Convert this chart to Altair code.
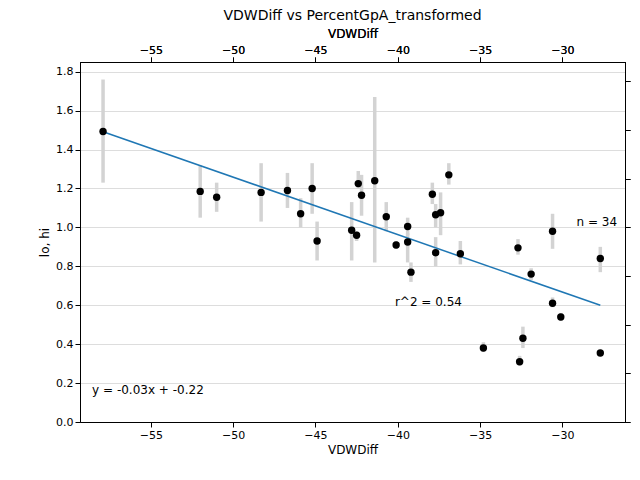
import altair as alt
import pandas as pd

vdw = [-57.9, -52.0, -51.0, -48.3, -46.7, -45.9, -45.2, -44.9, -42.8, -42.5, -42.4, -42.2,
       -41.4, -40.7, -40.1, -39.4, -39.4, -39.2, -37.9, -37.7, -37.7, -37.4, -36.9, -36.2,
       -34.8, -32.7, -32.6, -32.4, -31.9, -30.6, -30.6, -30.1, -27.7, -27.7]
gpa = [1.493, 1.185, 1.155, 1.18, 1.19, 1.07, 1.20, 0.93, 0.985, 0.96, 1.225, 1.165,
       1.24, 1.055, 0.91, 1.005, 0.925, 0.77, 1.17, 1.065, 0.87, 1.075, 1.27, 0.865,
       0.38, 0.895, 0.31, 0.43, 0.76, 0.98, 0.61, 0.54, 0.84, 0.355]
err_hi = [1.76, 1.32, 1.23, 1.33, 1.28, 1.15, 1.33, 1.03, 1.13, 0.98, 1.29, 1.27,
          1.67, 1.13, 0.93, 1.05, 0.97, 0.82, 1.23, 1.12, 0.95, 1.18, 1.33, 0.93,
          0.41, 0.94, 0.34, 0.49, 0.79, 1.07, 0.64, 0.56, 0.90, 0.37]
err_lo = [1.23, 1.05, 1.08, 1.03, 1.10, 1.00, 1.07, 0.83, 0.83, 0.93, 1.20, 1.06,
          0.82, 0.98, 0.89, 0.96, 0.82, 0.72, 1.12, 1.00, 0.80, 0.96, 1.22, 0.81,
          0.36, 0.86, 0.29, 0.38, 0.73, 0.89, 0.59, 0.52, 0.77, 0.34]

df = pd.DataFrame({"VDWDiff": vdw, "PercentGpA_transformed": gpa, "hi": err_hi, "lo": err_lo})

xs = alt.Scale(domain=[-59.3, -26.2], nice=False, zero=False)
ys = alt.Scale(domain=[0, 1.85], nice=False)
x = alt.X("VDWDiff:Q", scale=xs, axis=alt.Axis(values=[-55, -50, -45, -40, -35, -30], grid=False, format="d", title="VDWDiff"))
y = alt.Y("PercentGpA_transformed:Q", scale=ys, axis=alt.Axis(values=[0, 0.25, 0.5, 0.75, 1.0, 1.25, 1.5, 1.75], format=".2f", grid=False))

base = alt.Chart(df)
bars = base.mark_rule(color="lightgray", strokeWidth=3.5).encode(x=x, y=alt.Y("lo:Q", scale=ys), y2="hi:Q")
line = base.transform_regression("VDWDiff", "PercentGpA_transformed").mark_line(color="#1f77b4", strokeWidth=1.5).encode(x=x, y=y)
pts = base.mark_circle(color="black", size=55, opacity=1).encode(x=x, y=y)

labels = ["y = -0.03x + -0.22", "r^2 = 0.54", "n = 34"]
offs = [(-14, -41), (11, -30), (26, -20)]
text_df = pd.DataFrame({"t": labels, "ox": [o[0] for o in offs], "oy": [o[1] for o in offs]})
texts = alt.Chart(text_df).mark_text(align="left", baseline="middle", fontSize=12, font="DejaVu Sans").encode(
    text="t:N",
    x=alt.X("ox:Q", scale=alt.Scale(type="identity"), axis=None),
    y=alt.Y("oy:Q", scale=alt.Scale(type="identity"), axis=None),
)

chart = alt.layer(bars, line, pts, texts).resolve_scale(x="independent", y="independent").properties(
    width=545, height=360,
    title=alt.Title("VDWDiff vs PercentGpA_transformed", fontSize=14, fontWeight="normal", font="DejaVu Sans"),
    autosize=alt.AutoSizeParams(type="none"),
    padding={"left": 72, "top": 54, "right": 7, "bottom": 50},
).configure_axis(
    labelFont="DejaVu Sans", titleFont="DejaVu Sans", labelFontSize=11, titleFontSize=12,
    titleFontWeight="normal", domainColor="black", tickColor="black", labelColor="black"
).configure_view(stroke="black")

chart.save("out.html", embed_options={"renderer": "svg", "actions": False})
